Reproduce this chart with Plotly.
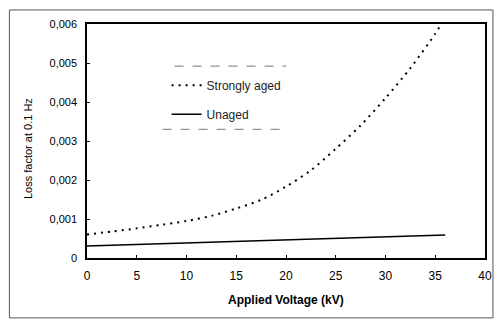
import plotly.graph_objects as go

aged_x = [0, 2.5, 5, 7.5, 10, 12.5, 15, 17.5, 20, 22.5, 25, 27.5, 30, 32.5, 35, 35.6]
aged_y = [0.0006, 0.00068, 0.00076, 0.00085, 0.00095, 0.00108, 0.00127, 0.00149, 0.00183,
          0.00225, 0.0028, 0.0034, 0.0041, 0.00487, 0.00575, 0.006]
unaged_x = [0, 36]
unaged_y = [0.00031, 0.00059]

y_tickvals = [0, 0.001, 0.002, 0.003, 0.004, 0.005, 0.006]
y_ticktext = ["0", "0,001", "0,002", "0,003", "0,004", "0,005", "0,006"]
x_tickvals = [0, 5, 10, 15, 20, 25, 30, 35, 40]

fig = go.Figure()
fig.add_trace(go.Scatter(x=aged_x, y=aged_y, mode="lines", name="Strongly aged",
                         line=dict(color="black", width=2, dash="2px,5px", shape="spline", smoothing=0.8),
                         legendgroup="a"))
fig.add_trace(go.Scatter(x=unaged_x, y=unaged_y, mode="lines", name="Unaged",
                         line=dict(color="black", width=1.5), legendgroup="b"))

font = "Liberation Sans, Arial, sans-serif"
fig.update_layout(
    width=502, height=320,
    margin=dict(l=87, r=10, t=24, b=62),
    paper_bgcolor="white", plot_bgcolor="white",
    font=dict(family=font, color="black", size=11),
    showlegend=True,
    legend=dict(x=0.2, y=0.80, xanchor="left", yanchor="top",
                bgcolor="rgba(0,0,0,0)", font=dict(size=12, color="#222"),
                traceorder="grouped", tracegroupgap=10),
    xaxis=dict(range=[0, 40], tickvals=x_tickvals, showgrid=False, zeroline=False,
               showline=True, linecolor="black", linewidth=1.5, mirror=True,
               ticks="inside", ticklen=3, tickcolor="black", ticklabelstandoff=6,
               tickfont=dict(size=12)),
    yaxis=dict(range=[0, 0.006], tickvals=y_tickvals, ticktext=y_ticktext, showgrid=False,
               zeroline=False, showline=True, linecolor="black", linewidth=1.5, mirror=True,
               ticks="inside", ticklen=3, tickcolor="black", ticklabelstandoff=6,
               tickfont=dict(size=11)),
    annotations=[
        dict(text="<b>Applied Voltage (kV)</b>", xref="paper", yref="paper", x=0.5, y=-0.18,
             xanchor="center", yanchor="middle", showarrow=False, font=dict(size=12)),
        dict(text="Loss factor at 0.1 Hz", xref="paper", yref="paper", x=-0.148, y=0.466,
             xanchor="center", yanchor="middle", textangle=-90, showarrow=False,
             font=dict(size=11)),
    ],
    shapes=[
        dict(type="rect", xref="paper", yref="paper", x0=-0.195, x1=1.02, y0=-0.256, y1=1.06,
             line=dict(color="#555", width=1)),
        dict(type="line", xref="paper", yref="paper", x0=0.22, x1=0.50, y0=0.82, y1=0.82,
             line=dict(color="#777", width=1, dash="dash")),
        dict(type="line", xref="paper", yref="paper", x0=0.19, x1=0.49, y0=0.55, y1=0.55,
             line=dict(color="#777", width=1, dash="dash")),
    ],
)

fig.write_html("out.html", config={"displayModeBar": False},
               post_script="document.body.style.margin='0px';")
